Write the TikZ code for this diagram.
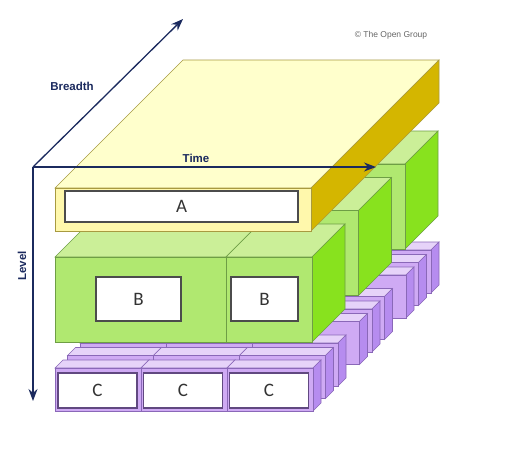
\documentclass[tikz,border=0pt]{standalone}
\usepackage{fontspec}
\setmainfont{Liberation Sans}
\newfontfamily\boxfont{Carlito}
\usetikzlibrary{arrows.meta}
\tikzset{>={Stealth[length=12pt, width=9pt]}}
\definecolor{navy}{HTML}{1B2A5E}
\definecolor{yellowTop}{HTML}{FFFFCC}
\definecolor{yellowFront}{HTML}{FFF8AC}
\definecolor{yellowSide}{HTML}{D4B600}
\definecolor{yellowEdge}{HTML}{A89A40}
\definecolor{greenTop}{HTML}{CBEF98}
\definecolor{greenFront}{HTML}{B0E870}
\definecolor{greenSide}{HTML}{88E21E}
\definecolor{greenEdge}{HTML}{6E9E45}
\definecolor{purpleTop}{HTML}{E6D3F9}
\definecolor{purpleFront}{HTML}{CFAAF4}
\definecolor{purpleSide}{HTML}{B68CEF}
\definecolor{purpleEdge}{HTML}{8A68B8}
\tikzset{
	yellow top/.style={fill=yellowTop, draw=yellowEdge, line width=.6pt},
	yellow front/.style={fill=yellowFront, draw=yellowEdge, line width=.6pt},
	yellow side/.style={fill=yellowSide, draw=yellowEdge, line width=.6pt},
	green top/.style={fill=greenTop, draw=greenEdge, line width=.6pt},
	green front/.style={fill=greenFront, draw=greenEdge, line width=.6pt},
	green side/.style={fill=greenSide, draw=greenEdge, line width=.6pt},
	purple top/.style={fill=purpleTop, draw=purpleEdge, line width=.6pt},
	purple front/.style={fill=purpleFront, draw=purpleEdge, line width=.6pt},
	purple side/.style={fill=purpleSide, draw=purpleEdge, line width=.6pt},
	labelbox/.style={draw=black!70, line width=1.1pt, fill=white, inner sep=0pt, font=\boxfont\fontsize{19}{19}\selectfont, text=black!80},
	cbox/.style={labelbox, draw=purpleEdge!70!black, minimum width=79pt, minimum height=35pt},
	axis/.style={navy, line width=1.3pt},
	axis label/.style={navy, font=\bfseries\fontsize{11.5}{12}\selectfont}
}
\newcommand{\cuboid}[6]{
	\draw[#6 top](#1, #2)--++(#5, -#5)--++(#3, 0)--++(-#5, #5)--cycle;
	\draw[#6 side](#1+#3, #2)--++(#5, -#5)--++(0, #4)--++(-#5, #5)--cycle;
	\draw[#6 front](#1, #2)rectangle++(#3, #4)
}

\begin{document}
\begin{tikzpicture}[x=1pt, y=-1pt]
    \useasboundingbox(0, 0)rectangle(525, 466);
    \foreach \g in {2, 1, 0}{
        \foreach \r in {2, 1, 0}
            \foreach \x in {55, 141, 227}{\cuboid{\x+46.5*\g+12.5*\r}{368-46.5*\g-12.5*\r}{86}{43}{8}{purple};}
        \cuboid{55+46.5*\g}{257-46.5*\g}{171}{85}{33}{green};
        \cuboid{226+46.5*\g}{257-46.5*\g}{86}{85}{33}{green};
    }
    \cuboid{55}{188}{256}{43}{128}{yellow};
    \node[labelbox, minimum width=233pt, minimum height=31pt](a) at (181.5, 206.5){A};
    \node[labelbox, minimum width=85pt, minimum height=44pt](b1) at (138.5, 299){B};
    \node[labelbox, minimum width=67pt, minimum height=44pt](b2) at (264.5, 299){B};
    \node[cbox](c1) at (97.5, 390.5){C};
    \node[cbox](c2) at (183, 390.5){C};
    \node[cbox](c3) at (269, 390.5){C};
    \coordinate(O) at (33, 167);
    \coordinate(breadth) at (183, 19);
    \coordinate(time) at (376, 167);
    \coordinate(level) at (33, 401);
    \draw[axis, ->](O)--(breadth);
    \draw[axis, ->](O)--(time);
    \draw[axis, ->](O)--(level);
    \node[axis label](breadthLabel) at (72, 86){Breadth};
    \node[axis label](timeLabel) at (196, 158){Time};
    \node[axis label, rotate=90](levelLabel) at (22, 266){Level};
    \node[black!60, font=\fontsize{8.5}{9}\selectfont](copyright) at (391, 35){\textcopyright{} The Open Group};
\end{tikzpicture}
\end{document}
